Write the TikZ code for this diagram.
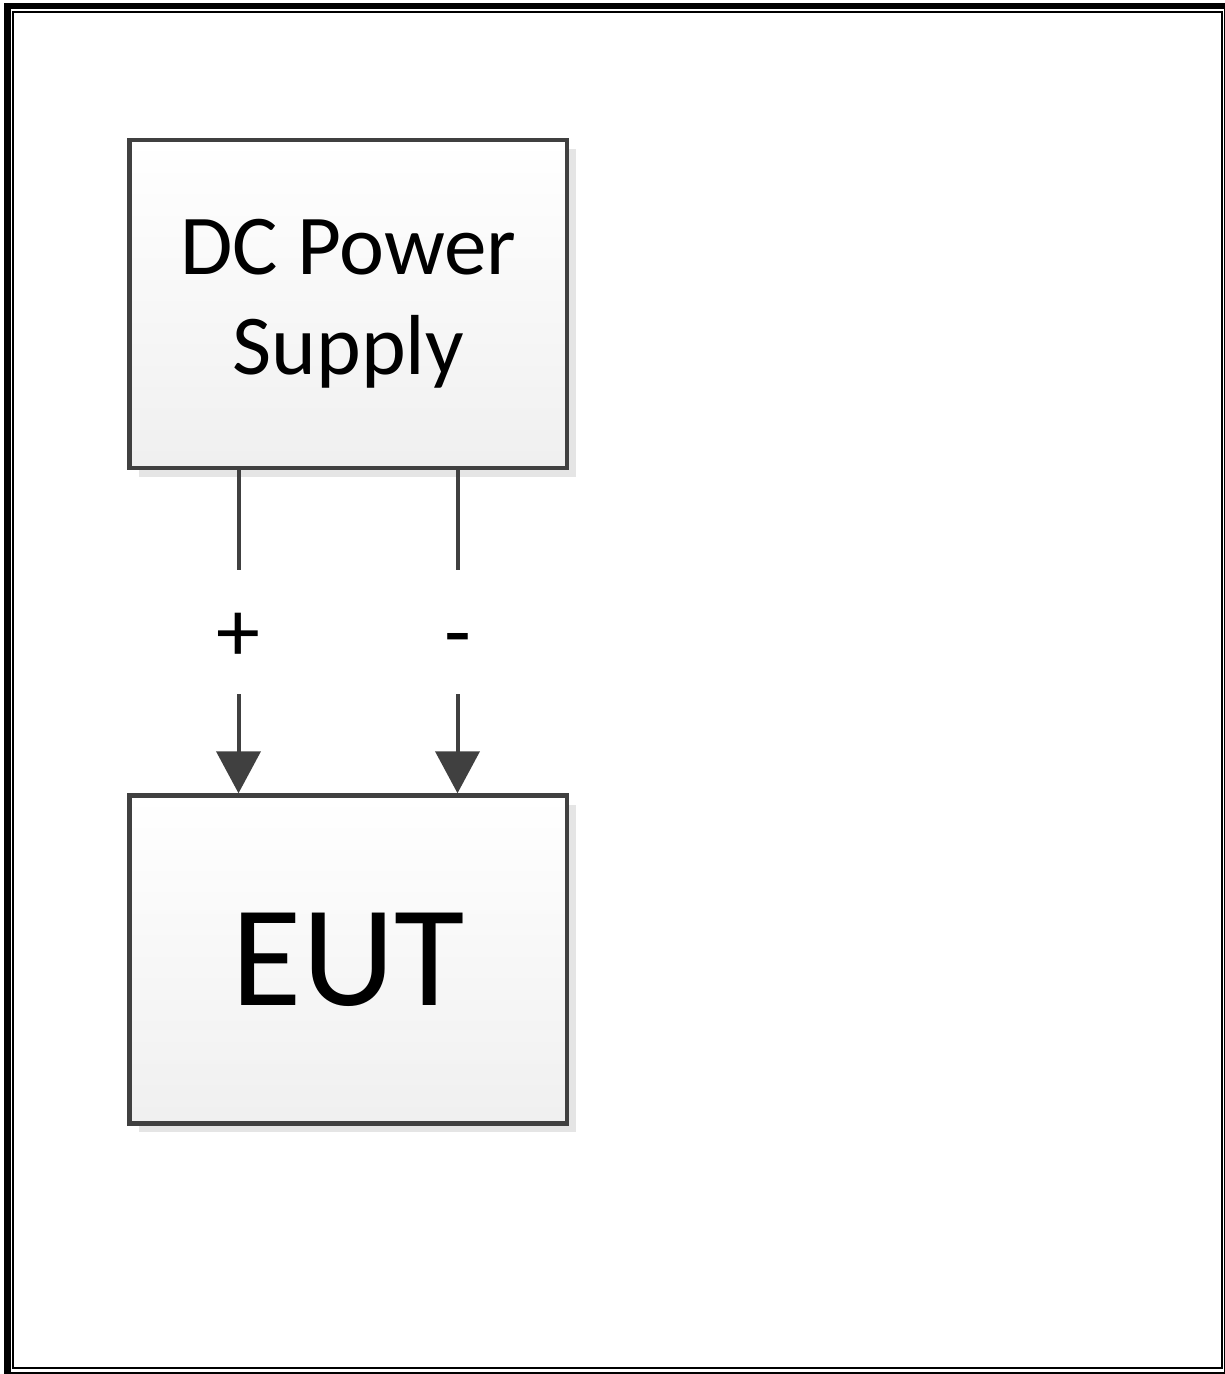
\documentclass[tikz,border=0pt]{standalone}
\usepackage{fontspec}
\setmainfont{Carlito}
\usepackage{tikz}
\usetikzlibrary{arrows.meta, shadows}
\definecolor{edgegray}{HTML}{404040}
\newcommand{\leadsign}[1]{\raisebox{-0.48cm}{#1}}

\begin{document}
\begin{tikzpicture}[x=0.02cm, y=-0.02cm,
    unit/.style={draw=edgegray, line width=0.09cm, top color=white, bottom color=black!6,
        minimum width=8.75cm, minimum height=6.56cm, align=center, inner sep=0pt,
        drop shadow={shadow xshift=0.18cm, shadow yshift=-0.18cm, fill=black!10, opacity=1}},
    sign/.style={inner sep=0pt, text height=0.6em, text depth=0pt, minimum height=2.48cm,
        font=\fontsize{50}{50}\selectfont},
    wire/.style={edgegray, line width=0.08cm}]
    \useasboundingbox (0,0) rectangle (1225,1374);
    % frame
    \draw[line width=0.12cm] (4,6) -- (1225,6);
    \draw[line width=0.14cm] (7.5,3) -- (7.5,1374);
    \draw[line width=0.04cm] (4,1372.5) -- (1225,1372.5);
    \draw[line width=0.04cm] (1224.5,3) -- (1224.5,1373);
    \draw[line width=0.05cm] (13,12) rectangle (1222,1368);
    % blocks
    \node[unit, font=\fontsize{48.5}{57}\selectfont] (psu) at (348.25,304) {DC Power\\Supply};
    \node[unit, font=\fontsize{82}{82}\selectfont] (eut) at (348.25,959.5) {EUT};
    % + and - leads
    \node[sign] (plus) at (238.5,632) {\leadsign{+}};
    \node[sign] (minus) at (457.5,632) {\leadsign{-}};
    \draw[wire] (psu.south -| plus) -- (plus.north);
    \draw[wire] (psu.south -| minus) -- (minus.north);
    \draw[wire, -{Triangle[length=0.84cm, width=0.88cm]}] (plus.south) -- (plus |- eut.north);
    \draw[wire, -{Triangle[length=0.84cm, width=0.88cm]}] (minus.south) -- (minus |- eut.north);
\end{tikzpicture}
\end{document}
